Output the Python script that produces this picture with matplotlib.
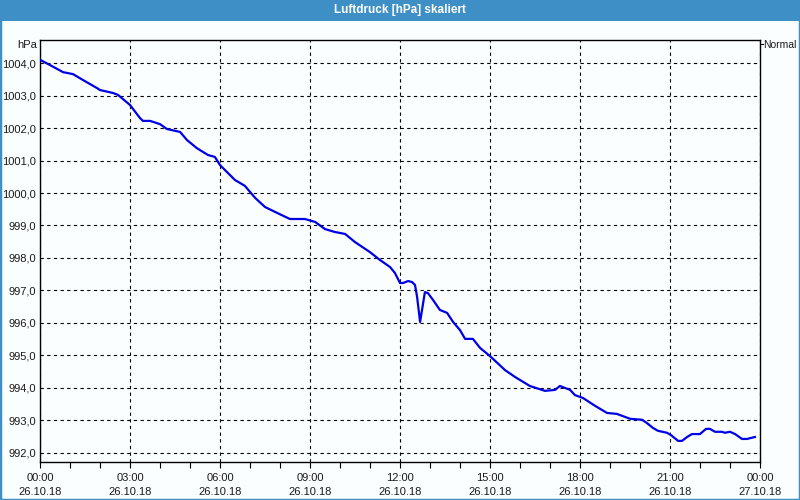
import matplotlib
matplotlib.use("Agg")
import matplotlib.pyplot as plt
from matplotlib.patches import Rectangle
from matplotlib.lines import Line2D
from matplotlib.ticker import FixedLocator, MultipleLocator

# ---- data ----
hours = [0.0, 0.33, 0.77, 1.1, 1.43, 1.9, 2.0, 2.43, 2.6, 3.0, 3.33, 3.43, 3.67, 4.0, 4.23,
         4.67, 4.9, 5.23, 5.6, 5.83, 6.0, 6.5, 6.83, 7.17, 7.5, 7.83, 8.33, 8.83, 9.17, 9.5,
         9.83, 10.17, 10.5, 11.0, 11.33, 11.67, 11.83, 12.0, 12.1, 12.27, 12.4, 12.5, 12.57,
         12.67, 12.83, 12.93, 13.1, 13.33, 13.57, 13.77, 14.0, 14.17, 14.43, 14.67, 15.0,
         15.5, 15.83, 16.33, 16.83, 17.17, 17.33, 17.67, 17.83, 18.1, 18.5, 18.9, 19.23,
         19.67, 20.07, 20.23, 20.43, 20.6, 20.9, 21.03, 21.27, 21.4, 21.57, 21.73, 22.0,
         22.2, 22.33, 22.5, 22.73, 22.83, 23.0, 23.17, 23.4, 23.57, 23.83]
pressure = [1004.1, 1003.94, 1003.72, 1003.66, 1003.48, 1003.23, 1003.17, 1003.08, 1003.02,
            1002.71, 1002.31, 1002.22, 1002.22, 1002.12, 1001.97, 1001.88, 1001.63, 1001.38,
            1001.17, 1001.11, 1000.86, 1000.4, 1000.22, 999.85, 999.57, 999.42, 999.2, 999.2,
            999.11, 998.89, 998.8, 998.74, 998.49, 998.18, 997.94, 997.72, 997.54, 997.23,
            997.23, 997.29, 997.26, 997.17, 996.8, 996.03, 996.95, 996.92, 996.71, 996.4,
            996.31, 996.03, 995.78, 995.51, 995.51, 995.23, 994.98, 994.55, 994.34, 994.06,
            993.91, 993.94, 994.06, 993.94, 993.78, 993.69, 993.45, 993.23, 993.2, 993.05,
            993.02, 992.92, 992.77, 992.68, 992.62, 992.55, 992.37, 992.37, 992.49, 992.58,
            992.58, 992.74, 992.74, 992.65, 992.65, 992.62, 992.65, 992.58, 992.43, 992.43,
            992.49]
xtick_hours = [0, 3, 6, 9, 12, 15, 18, 21, 24]
xtick_labels = ["00:00\n26.10.18", "03:00\n26.10.18", "06:00\n26.10.18", "09:00\n26.10.18",
                "12:00\n26.10.18", "15:00\n26.10.18", "18:00\n26.10.18", "21:00\n26.10.18",
                "00:00\n27.10.18"]
ytick_values = [992, 993, 994, 995, 996, 997, 998, 999, 1000, 1001, 1002, 1003, 1004]
title = "Luftdruck [hPa] skaliert"

plt.rcParams['font.family'] = ['Liberation Sans', 'DejaVu Sans']
BG = "#fbfefe"
BLUE_BAR = "#3d8fc6"
TXT = "#1a1a1a"
FS = 8

fig = plt.figure(figsize=(8, 5), dpi=100, facecolor=BG)

# title bar and frame
fig.patches.append(Rectangle((0, 1 - 21 / 500), 1, 21 / 500, transform=fig.transFigure,
                             facecolor=BLUE_BAR, edgecolor="none", zorder=0))
fig.patches.append(Rectangle((0, 0), 1, 1, transform=fig.transFigure, facecolor="none",
                             edgecolor=BLUE_BAR, linewidth=2.5, zorder=5))
fig.text(0.5, 1 - 10.5 / 500, title, ha="center", va="center", color="white",
         fontsize=8.5, fontweight="bold")

ax = fig.add_axes([40 / 800, 1 - 462 / 500, 720 / 800, 422 / 500])
ax.set_facecolor(BG)
ax.plot(hours, pressure, color="#0000e6", linewidth=1.6, solid_joinstyle="round", zorder=3)

ax.set_xlim(0, 24)
ax.set_ylim(991.72, 1004.71)
ax.xaxis.set_major_locator(FixedLocator(xtick_hours))
ax.xaxis.set_minor_locator(MultipleLocator(1))
ax.set_xticklabels(xtick_labels, fontsize=FS, color=TXT, linespacing=1.45)
ax.set_yticks(ytick_values)
ax.set_yticklabels([f"{v:.1f}".replace(".", ",") for v in ytick_values], fontsize=FS, color=TXT)

ax.tick_params(axis="x", which="both", direction="out", length=4, width=0.8, pad=4)
ax.tick_params(axis="y", which="both", length=0, pad=3)

ax.grid(True, which="major", color="black", linestyle=(0, (3, 3)), linewidth=0.8)
for s in ax.spines.values():
    s.set_color("black")
    s.set_linewidth(1.0)

fig.text(37 / 800, 1 - 45 / 500, "hPa", ha="right", va="center", fontsize=FS, color=TXT)
fig.lines.append(Line2D([760 / 800, 763 / 800], [1 - 44 / 500, 1 - 44 / 500],
                        transform=fig.transFigure, color="black", linewidth=0.8))
fig.text(763 / 800, 1 - 45 / 500, "Normal", ha="left", va="center", fontsize=7.5, color=TXT)

fig.savefig("out.png", dpi=100, facecolor=BG)
